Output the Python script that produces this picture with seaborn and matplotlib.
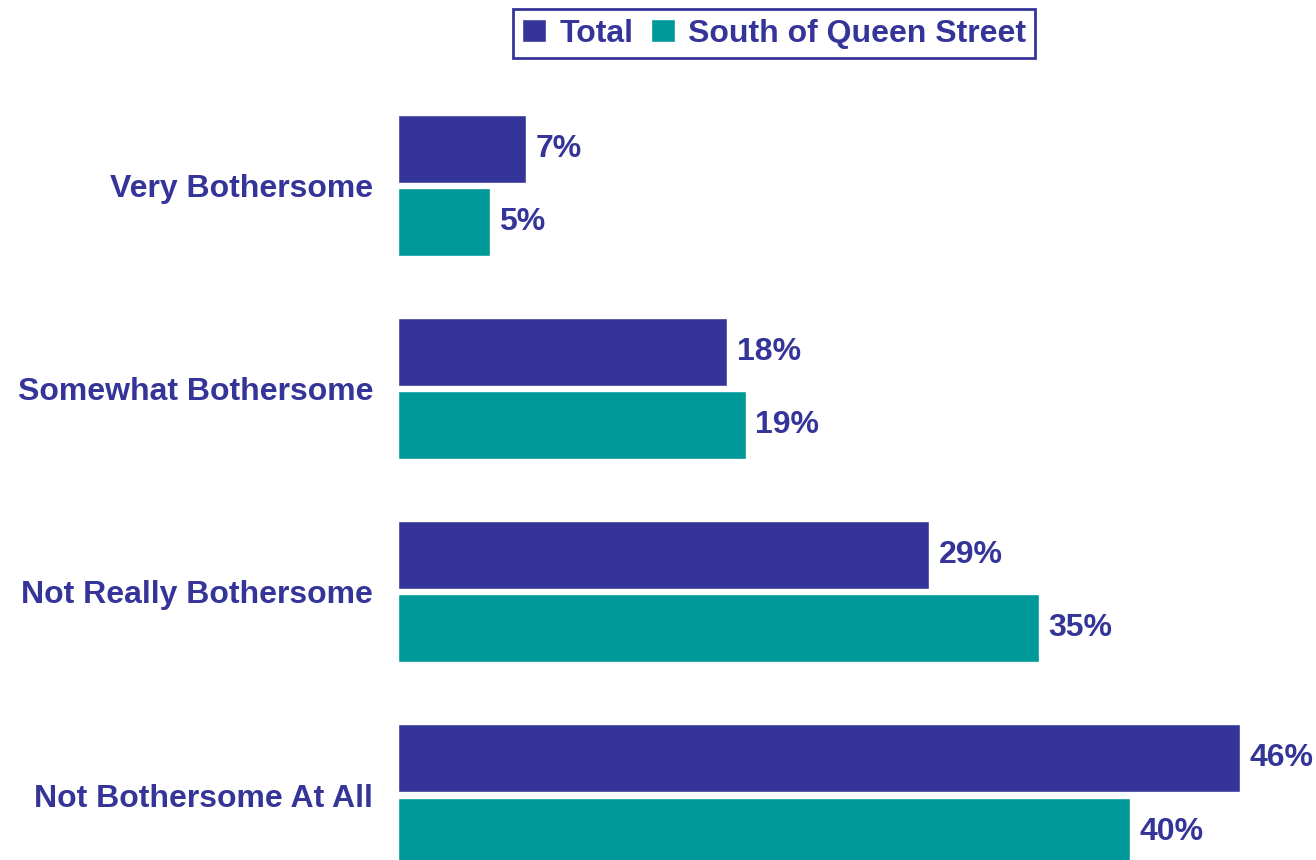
import numpy as np
import pandas as pd
import matplotlib.pyplot as plt
import seaborn as sns
from matplotlib.patches import Patch

categories = ["Very Bothersome", "Somewhat Bothersome", "Not Really Bothersome", "Not Bothersome At All"]
total = [7, 18, 29, 46]
south = [5, 19, 35, 40]
series = ["Total", "South of Queen Street"]

navy = "#353599"
teal = "#009999"

df = pd.DataFrame({
    "category": categories * 2,
    "value": total + south,
    "group": [series[0]] * 4 + [series[1]] * 4,
})

sns.set_style("white")
plt.rcParams['font.family'] = ['Liberation Sans', 'DejaVu Sans']

fig = plt.figure(figsize=(13.16, 8.6), dpi=100)
ax = fig.add_axes([398 / 1316, 0, 1 - 398 / 1316, (860 - 80) / 860])

sns.barplot(data=df, y="category", x="value", hue="group", orient="h",
            palette=[navy, teal], width=0.72, gap=0.07, ax=ax, legend=False,
            saturation=1)

ax.set_xlim(0, 918 / 18.3)
ax.set_ylim(3.32, -0.52)

for cont in ax.containers:
    ax.bar_label(cont, labels=[f"{v:.0f}%" for v in cont.datavalues], padding=7,
                 fontsize=23, fontweight="bold", color=navy)

ax.set_xlabel("")
ax.set_ylabel("")
ax.set_xticks([])
ax.tick_params(axis="y", length=0, pad=18)
for lab in ax.get_yticklabels():
    lab.set_fontsize(23)
    lab.set_fontweight("bold")
    lab.set_color(navy)
sns.despine(ax=ax, left=True, bottom=True)

handles = [Patch(facecolor=navy, label=series[0]), Patch(facecolor=teal, label=series[1])]
leg = fig.legend(handles=handles, loc="upper center", bbox_to_anchor=(774 / 1316, 1.008),
                 ncol=2, frameon=True, fancybox=False, framealpha=1, fontsize=23,
                 handlelength=0.75, handleheight=0.75, handletextpad=0.4,
                 columnspacing=0.55, borderpad=0.3)
leg.get_frame().set_edgecolor(navy)
leg.get_frame().set_linewidth(2)
for t in leg.get_texts():
    t.set_color(navy)
    t.set_fontweight("bold")

fig.savefig("out.png", dpi=100)
